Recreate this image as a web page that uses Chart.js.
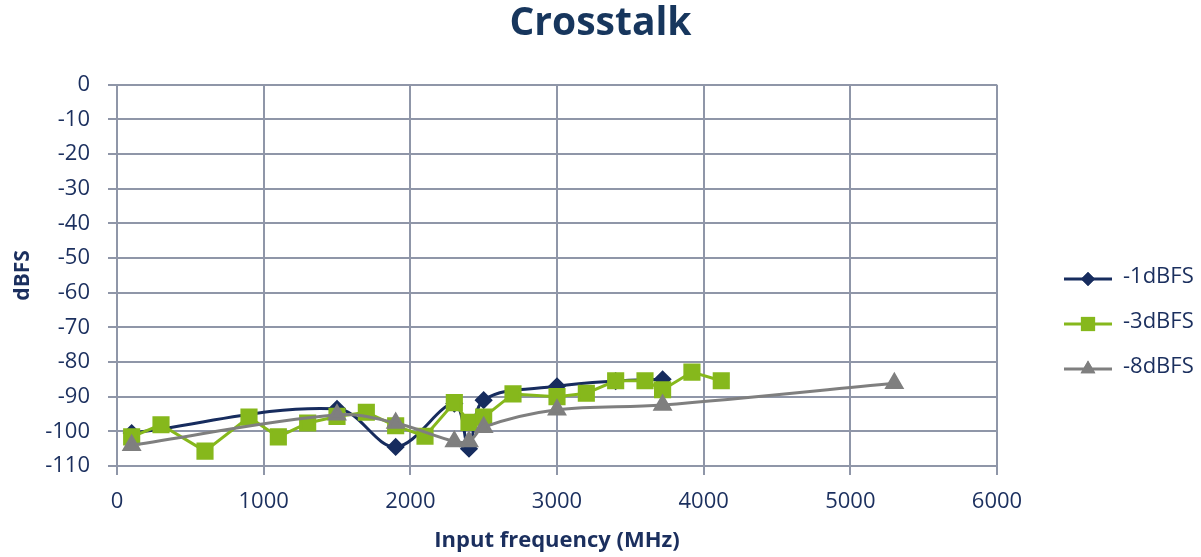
<!DOCTYPE html>
<html>
<head>
<meta charset="utf-8">
<script src="https://cdn.jsdelivr.net/npm/chart.js@4/dist/chart.umd.min.js"></script>
<style>
  body { margin: 0; background: #fff; }
  #wrap { width: 1201px; height: 557px; }
</style>
</head>
<body>
<div id="wrap"><canvas id="crosstalk"></canvas></div>
<script>
const seriesNames = ['-1dBFS', '-3dBFS', '-8dBFS']

// [frequency MHz, dBFS]
const dbfs1 = [[100, -100.5], [1500, -93.5], [1900, -104.5], [2300, -92], [2400, -105],
    [2500, -91], [3000, -87], [3400, -85.5], [3720, -85]]
const dbfs3 = [[100, -101.6], [300, -98.1], [600, -105.7], [900, -95.9], [1100, -101.6], [1300, -97.6],
    [1500, -95.7], [1700, -94.5], [1900, -98.4], [2100, -101.4], [2300, -91.7], [2400, -97.4],
    [2500, -95.9], [2700, -89.2], [3000, -90], [3200, -89], [3400, -85.4], [3600, -85.4],
    [3720, -88], [3920, -82.9], [4120, -85.4]]
const dbfs8 = [[100, -104], [1500, -95.2], [1900, -97.6], [2300, -102.9], [2400, -102.9],
    [2500, -98.8], [3000, -93.8], [3720, -92.4], [5300, -86.1]]

const xTicks = [0, 1000, 2000, 3000, 4000, 5000, 6000]
const yTicks = [0, -10, -20, -30, -40, -50, -60, -70, -80, -90, -100, -110]

const navy = '#172C5E'
const green = '#86B81C'
const grey = '#7F7F7F'
const gridColor = '#8F96A8'
const textColor = '#1B2F5E'
const fontFamily = '"Open Sans", Lato, sans-serif'

const toPoints = arr => arr.map(p => ({ x: p[0], y: p[1] }))

// little line + marker images for the legend
function legendIcon(color, style, radius) {
    const c = document.createElement('canvas')
    c.width = 92
    c.height = 22
    const ctx = c.getContext('2d')
    const y = 13
    ctx.strokeStyle = color
    ctx.lineWidth = 3
    ctx.beginPath()
    ctx.moveTo(44, y)
    ctx.lineTo(92, y)
    ctx.stroke()
    ctx.fillStyle = color
    Chart.helpers.drawPoint(ctx, { pointStyle: style, radius: radius, rotation: 0, borderWidth: 0 }, 68, y)
    ctx.fill()
    return c
}

const datasets = [
    {
        label: seriesNames[0], data: toPoints(dbfs1),
        borderColor: navy, backgroundColor: navy, borderWidth: 3,
        pointStyle: 'rectRot', pointRadius: 7, pointHoverRadius: 7,
        tension: 0.35, order: 2
    },
    {
        label: seriesNames[1], data: toPoints(dbfs3),
        borderColor: green, backgroundColor: green, borderWidth: 3,
        pointStyle: 'rect', pointRadius: 10, pointHoverRadius: 10,
        tension: 0, order: 1
    },
    {
        label: seriesNames[2], data: toPoints(dbfs8),
        borderColor: grey, backgroundColor: grey, borderWidth: 3,
        pointStyle: 'triangle', pointRadius: 8.5, pointHoverRadius: 8.5,
        tension: 0.35, order: 0
    }
]

const icons = [
    legendIcon(navy, 'rectRot', 7),
    legendIcon(green, 'rect', 10),
    legendIcon(grey, 'triangle', 8.5)
]

const legendWidth = {
    id: 'legendWidth',
    beforeInit(chart) {
        const legend = chart.legend
        const fit = legend.fit.bind(legend)
        legend.fit = function () {
            fit()
            this.width = 204
        }
    }
}

new Chart(document.getElementById('crosstalk'), {
    type: 'line',
    data: { datasets: datasets },
    plugins: [legendWidth],
    options: {
        responsive: true,
        maintainAspectRatio: false,
        animation: false,
        layout: { padding: 0 },
        plugins: {
            title: {
                display: true,
                text: 'Crosstalk',
                color: '#17365D',
                font: { family: fontFamily, size: 39, weight: 'bold', lineHeight: 1.2 },
                padding: { top: 0, bottom: 38 }
            },
            legend: {
                position: 'right',
                title: { display: true, text: ' ', font: { size: 10 }, padding: { top: 75, bottom: 0 } },
                labels: {
                    usePointStyle: true,
                    pointStyleWidth: 92,
                    padding: 23,
                    color: textColor,
                    font: { family: fontFamily, size: 22 },
                    generateLabels: chart => chart.data.datasets.map((ds, i) => ({
                        text: ds.label,
                        pointStyle: icons[i],
                        fillStyle: ds.borderColor,
                        strokeStyle: ds.borderColor,
                        lineWidth: 0,
                        hidden: false,
                        datasetIndex: i,
                        fontColor: textColor
                    }))
                }
            },
            tooltip: { enabled: false }
        },
        scales: {
            x: {
                type: 'linear',
                min: 0, max: 6000,
                afterBuildTicks: scale => { scale.ticks = xTicks.map(v => ({ value: v })) },
                afterFit: scale => { scale.height = 91 },
                grid: { color: gridColor, lineWidth: 2, tickLength: 9 },
                border: { color: gridColor, width: 2 },
                ticks: {
                    color: textColor, padding: 14,
                    font: { family: fontFamily, size: 22 },
                    callback: v => String(v)
                },
                title: {
                    display: true,
                    text: 'Input frequency (MHz)',
                    color: textColor,
                    font: { family: fontFamily, size: 22, weight: 'bold' },
                    padding: { top: 0, bottom: 3 }
                }
            },
            y: {
                type: 'linear',
                min: -110, max: 0,
                afterBuildTicks: scale => { scale.ticks = yTicks.map(v => ({ value: v })) },
                afterFit: scale => { scale.width = 117 },
                grid: { color: gridColor, lineWidth: 2, tickLength: 9 },
                border: { color: gridColor, width: 2 },
                ticks: {
                    color: textColor, padding: 18,
                    font: { family: fontFamily, size: 22 },
                    callback: v => String(v)
                },
                title: {
                    display: true,
                    text: 'dBFS',
                    color: textColor,
                    font: { family: fontFamily, size: 21, weight: 'bold' },
                    padding: { top: 10, bottom: 0 }
                }
            }
        }
    }
})
</script>
</body>
</html>
